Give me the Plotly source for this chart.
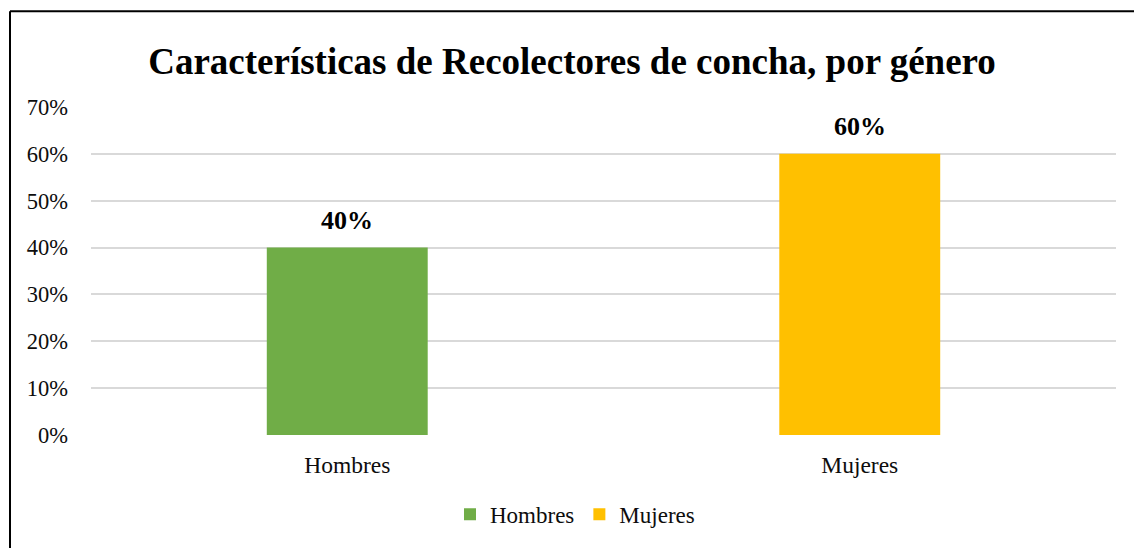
import plotly.graph_objects as go

# Chart data
categories = ["Hombres", "Mujeres"]
shares = [0.40, 0.60]
bar_colors = ["#70AD47", "#FFC000"]
y_ticks = [0, 0.1, 0.2, 0.3, 0.4, 0.5, 0.6, 0.7]
y_tick_labels = ["0%", "10%", "20%", "30%", "40%", "50%", "60%", "70%"]
title_text = "Características de Recolectores de concha, por género"

W, H = 1134, 548
L, R, T, B = 91, 18, 107, 110
plot_w = W - L - R
plot_h = H - T - B

SERIF = "Liberation Serif, Times New Roman, serif"
TEXT = "#0d0d0d"

fig = go.Figure()
for cat, val, col in zip(categories, shares, bar_colors):
    fig.add_trace(go.Bar(
        x=[cat], y=[val], name=cat,
        marker=dict(color=col, line=dict(width=0)),
        width=0.314,
        hoverinfo="skip",
    ))
    # bold value label above each bar
    fig.add_annotation(
        x=cat, y=val, xref="x", yref="y",
        text=f"<b>{val*100:.0f}%</b>",
        showarrow=False, yanchor="bottom", yshift=11,
        font=dict(family=SERIF, size=26, color="#000000"),
    )

# outer frame (top and left edges)
px_x = lambda p: (p - L) / plot_w
px_y = lambda p: 1 - (p - T) / plot_h
fig.add_shape(type="line", xref="paper", yref="paper",
              x0=px_x(10), x1=px_x(W + 20), y0=px_y(10.5), y1=px_y(10.5),
              line=dict(color="#000000", width=2))
fig.add_shape(type="line", xref="paper", yref="paper",
              x0=px_x(10), x1=px_x(10), y0=px_y(10.5), y1=px_y(H + 20),
              line=dict(color="#000000", width=2))

fig.update_layout(
    width=W, height=H,
    margin=dict(l=L, r=R, t=T, b=B, pad=0),
    plot_bgcolor="#ffffff", paper_bgcolor="#ffffff",
    barmode="overlay",
    title=dict(
        text=f"<b>{title_text}</b>",
        x=572 / W, xanchor="center",
        y=1 - 61 / H, yanchor="middle",
        font=dict(family=SERIF, size=37, color="#000000"),
    ),
    showlegend=True,
    legend=dict(
        orientation="h",
        x=px_x(575), xanchor="center",
        y=px_y(518), yanchor="middle",
        font=dict(family=SERIF, size=23, color=TEXT),
        itemwidth=30, tracegroupgap=0,
        bgcolor="rgba(0,0,0,0)",
    ),
    xaxis=dict(
        type="category",
        categoryorder="array", categoryarray=categories,
        showgrid=False, showline=False, zeroline=False,
        ticks="", ticklabelstandoff=13,
        tickfont=dict(family=SERIF, size=23.5, color=TEXT),
        fixedrange=True,
    ),
    yaxis=dict(
        range=[0, 0.7],
        tickvals=y_ticks, ticktext=y_tick_labels,
        showgrid=True, gridcolor="#d9d9d9", gridwidth=2,
        zeroline=False, showline=False, ticks="",
        ticklabelstandoff=22,
        tickfont=dict(family=SERIF, size=22.5, color=TEXT),
        fixedrange=True,
    ),
)

fig.write_html("out.html")
